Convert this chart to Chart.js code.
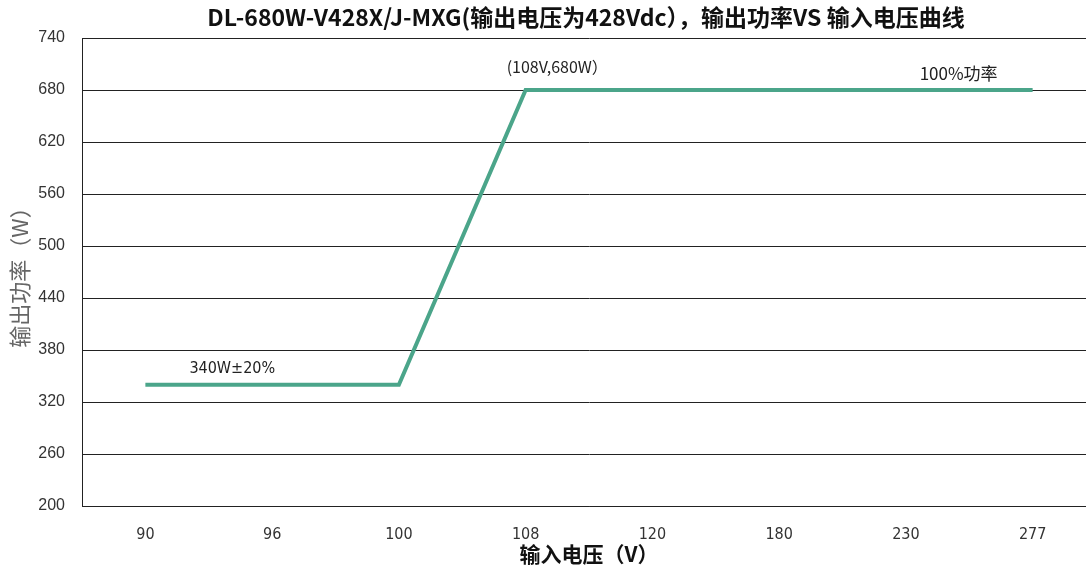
<!DOCTYPE html>
<html>
<head>
<meta charset="utf-8">
<script src="https://cdn.jsdelivr.net/npm/chart.js@4/dist/chart.umd.min.js"></script>
<style>
  html, body { margin: 0; padding: 0; background: #fff; overflow: hidden; }
  #wrap { width: 1096px; height: 567px; }
</style>
</head>
<body>
<div id="wrap"><canvas id="grafica" width="1096" height="567"></canvas></div>
<script>
// datos
const voltajes = ['90', '96', '100', '108', '120', '180', '230', '277'];
const potencia = [340, 340, 340, 680, 680, 680, 680, 680];
const yTicks = [200, 260, 320, 380, 440, 500, 560, 620, 680, 740];

const titulo = 'DL-680W-V428X/J-MXG(输出电压为428Vdc），输出功率VS 输入电压曲线';
const notas = [
    { text: '340W±20%', x: '90', y: 340, dx: 44, dy: -16, font: '16px "DejaVu Sans Condensed", sans-serif' },
    { text: '(108V,680W）', x: '108', y: 680, dx: -19, dy: -23, font: '16px "Noto Sans CJK SC", sans-serif' },
    { text: '100%功率', x: '277', y: 680, dx: -113, dy: -16, font: '17px "Noto Sans CJK SC", sans-serif' }
];

const textoExtra = {
    id: 'textoExtra',
    afterDraw(chart) {
        const { ctx, chartArea, scales } = chart;
        ctx.save();
        ctx.fillStyle = '#111';
        ctx.font = 'bold 23px "Noto Sans CJK SC", sans-serif';
        ctx.textAlign = 'center';
        ctx.textBaseline = 'middle';
        ctx.fillText(titulo, (chartArea.left + chartArea.right) / 2 - 3, 17);

        ctx.textAlign = 'left';
        notas.forEach(n => {
            ctx.font = n.font;
            ctx.fillStyle = '#222';
            const px = scales.x.getPixelForValue(voltajes.indexOf(n.x));
            const py = scales.y.getPixelForValue(n.y);
            ctx.fillText(n.text, px + n.dx, py + n.dy);
        });
        ctx.restore();
    }
};

const ctx = document.getElementById('grafica').getContext('2d');
new Chart(ctx, {
    type: 'line',
    data: {
        labels: voltajes,
        datasets: [{
            label: 'potencia',
            data: potencia,
            borderColor: '#4ba58a',
            borderWidth: 4,
            pointRadius: 0,
            tension: 0,
            fill: false
        }]
    },
    options: {
        responsive: false,
        animation: false,
        devicePixelRatio: 1,
        layout: { padding: { top: 38, right: 0, bottom: 0, left: 0 } },
        plugins: {
            legend: { display: false },
            title: { display: false },
            tooltip: { enabled: false }
        },
        scales: {
            x: {
                offset: true,
                grid: { display: false, drawTicks: false },
                border: { display: true, color: '#222', width: 1 },
                ticks: {
                    color: '#333',
                    padding: 19,
                    font: { family: '"Liberation Sans Narrow", "DejaVu Sans Condensed", sans-serif', size: 16 }
                },
                title: {
                    display: true,
                    text: '输入电压（V）',
                    color: '#111',
                    font: { family: '"Noto Sans CJK SC", serif', size: 21, weight: 'bold' },
                    padding: { top: 0, bottom: 0 }
                },
                afterFit: s => { s.height = 61; }
            },
            y: {
                min: 200,
                max: 740,
                afterBuildTicks: s => { s.ticks = yTicks.map(v => ({ value: v })); },
                grid: { color: '#222', lineWidth: 1, drawTicks: false },
                border: { display: true, color: '#222', width: 1 },
                ticks: {
                    color: '#333',
                    padding: 17,
                    font: { family: '"Liberation Sans", sans-serif', size: 16 }
                },
                title: {
                    display: true,
                    text: '输出功率（W）',
                    color: '#666',
                    font: { family: '"Noto Sans CJK SC", serif', size: 22 },
                    padding: { top: 6, bottom: 0 }
                },
                afterFit: s => { s.width = 82; }
            }
        }
    },
    plugins: [textoExtra]
});
</script>
</body>
</html>
